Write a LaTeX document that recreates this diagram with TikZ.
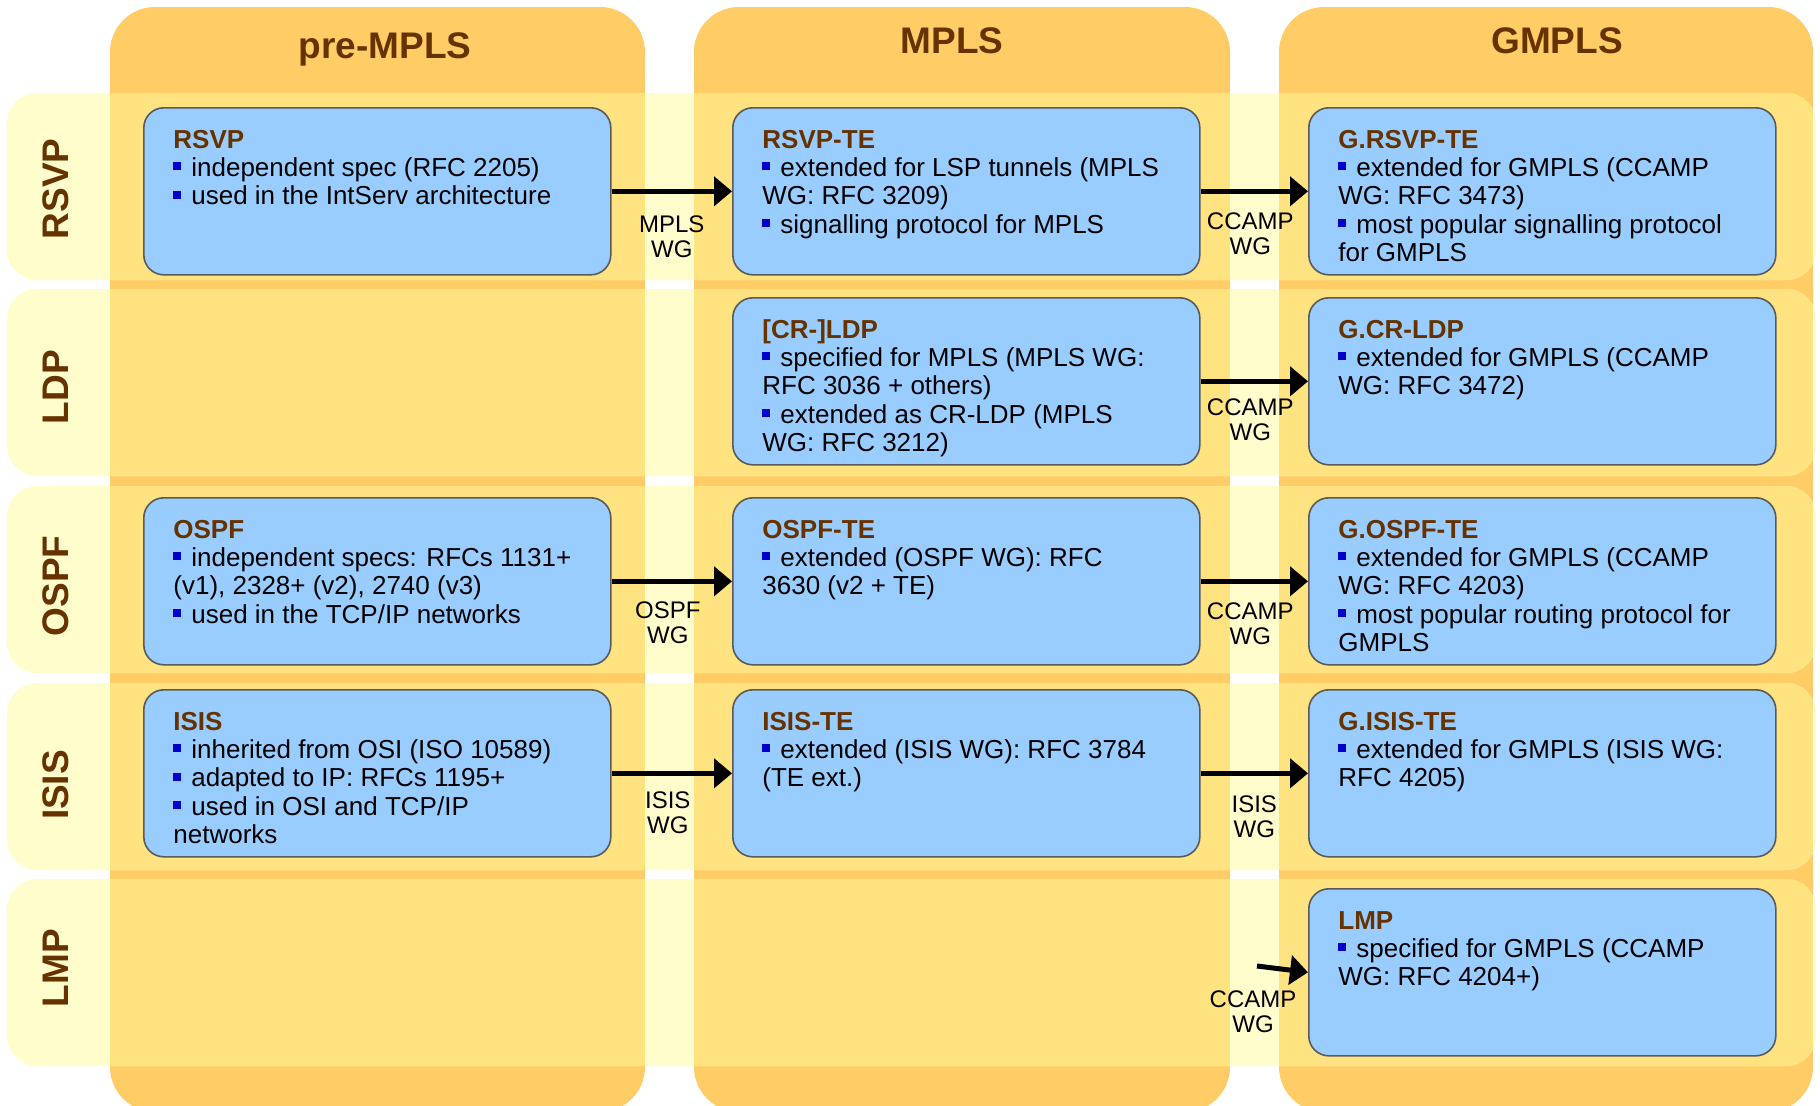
\documentclass[tikz,border=0pt]{standalone}
\usepackage{fontspec}
\setmainfont{Liberation Sans}
\usetikzlibrary{arrows.meta,calc,positioning}
\definecolor{colorange}{HTML}{FFCC66}
\definecolor{rowpale}{HTML}{FFFDCC}
\definecolor{mixyellow}{HTML}{FFE380}
\definecolor{boxblue}{HTML}{99CCFF}
\definecolor{boxline}{HTML}{5A5A5A}
\definecolor{titlebrown}{HTML}{663300}
\definecolor{bulblue}{HTML}{0000CC}
\newcommand{\bul}{\textcolor{bulblue}{\rule[3pt]{4pt}{4pt}}\hspace{5pt}}
\newcommand{\ttl}[1]{\textcolor{titlebrown}{\bfseries #1}}
\newcommand{\btxt}[1]{\parbox[t]{215pt}{\raggedright #1}}
\begin{document}
\begin{tikzpicture}[x=0.5pt, y=-0.5pt, line join=round,
	pbox/.style={draw=boxline, fill=boxblue, line width=0.8pt, rounded corners=10pt, minimum width=233.5pt, minimum height=83.5pt, inner sep=0pt, anchor=north west},
	ptxt/.style={anchor=base west, inner sep=0pt, font=\fontsize{13}{14.2}\selectfont},
	wg/.style={align=center, inner sep=0pt, font=\fontsize{12}{12.6}\selectfont},
	hdr/.style={text=titlebrown, inner sep=0pt, font=\fontsize{18.5}{20}\selectfont\bfseries},
	flow/.style={-{Triangle[length=9pt,width=14.5pt]}, line width=2.5pt}]
	\useasboundingbox (0,0) rectangle (1820,1105);
	% columns and rows
	\foreach \a/\b in {110/645,694/1230,1279/1813}{\fill[colorange, rounded corners=22.5pt] (\a,7) rectangle (\b,1112);}
	\foreach \r in {93,289,486,683,879}{
		\fill[rowpale, rounded corners=15pt] (7,\r) rectangle (1816,\r+187);
		\begin{scope}
			\clip[rounded corners=15pt] (7,\r) rectangle (1816,\r+187);
			\foreach \a/\b in {110/645,694/1230,1279/1813}{\fill[mixyellow] (\a,\r) rectangle (\b,\r+187);}
		\end{scope}}
	% headers
	\node[hdr, anchor=base] (hdPre) at (385,58) {pre-MPLS};
	\node[hdr, anchor=base] (hdMpls) at (952,53) {MPLS};
	\node[hdr, anchor=base] (hdGmpls) at (1557,53) {GMPLS};
	\foreach \t/\y in {RSVP/189,LDP/387,OSPF/586,ISIS/785,LMP/968}{\node[hdr, rotate=90] (lb\t) at (56,\y) {\t};}
	% boxes
	\node[pbox] (rsvp) at (143,107) {};
	\node[pbox] (rsvpte) at (732,107) {};
	\node[pbox] (grsvpte) at (1308,107) {};
	\node[pbox] (ldp) at (732,297) {};
	\node[pbox] (gldp) at (1308,297) {};
	\node[pbox] (ospf) at (143,497) {};
	\node[pbox] (ospfte) at (732,497) {};
	\node[pbox] (gospfte) at (1308,497) {};
	\node[pbox] (isis) at (143,689) {};
	\node[pbox] (isiste) at (732,689) {};
	\node[pbox] (gisiste) at (1308,689) {};
	\node[pbox] (lmp) at (1308,888) {};
	% texts
	\node[ptxt] (rsvpT) at ($(rsvp.north west)+(30,41)$) {\btxt{\ttl{RSVP}\\ \bul independent spec (RFC 2205)\\ \bul used in the IntServ architecture}};
	\node[ptxt] (rsvpteT) at ($(rsvpte.north west)+(30,41)$) {\btxt{\ttl{RSVP-TE}\\ \bul extended for LSP tunnels (MPLS\\ WG: RFC 3209)\\ \bul signalling protocol for MPLS}};
	\node[ptxt] (grsvpteT) at ($(grsvpte.north west)+(30,41)$) {\btxt{\ttl{G.RSVP-TE}\\ \bul extended for GMPLS (CCAMP\\ WG: RFC 3473)\\ \bul most popular signalling protocol\\ for GMPLS}};
	\node[ptxt] (ldpT) at ($(ldp.north west)+(30,41)$) {\btxt{\ttl{[CR-]LDP}\\ \bul specified for MPLS (MPLS WG:\\ RFC 3036 + others)\\ \bul extended as CR-LDP (MPLS\\ WG: RFC 3212)}};
	\node[ptxt] (gldpT) at ($(gldp.north west)+(30,41)$) {\btxt{\ttl{G.CR-LDP}\\ \bul extended for GMPLS (CCAMP\\ WG: RFC 3472)}};
	\node[ptxt] (ospfT) at ($(ospf.north west)+(30,41)$) {\btxt{\ttl{OSPF}\\ \bul independent specs: RFCs 1131+\\ (v1), 2328+ (v2), 2740 (v3)\\ \bul used in the TCP/IP networks}};
	\node[ptxt] (ospfteT) at ($(ospfte.north west)+(30,41)$) {\btxt{\ttl{OSPF-TE}\\ \bul extended (OSPF WG): RFC\\ 3630 (v2 + TE)}};
	\node[ptxt] (gospfteT) at ($(gospfte.north west)+(30,41)$) {\btxt{\ttl{G.OSPF-TE}\\ \bul extended for GMPLS (CCAMP\\ WG: RFC 4203)\\ \bul most popular routing protocol for\\ GMPLS}};
	\node[ptxt] (isisT) at ($(isis.north west)+(30,41)$) {\btxt{\ttl{ISIS}\\ \bul inherited from OSI (ISO 10589)\\ \bul adapted to IP: RFCs 1195+\\ \bul used in OSI and TCP/IP\\ networks}};
	\node[ptxt] (isisteT) at ($(isiste.north west)+(30,41)$) {\btxt{\ttl{ISIS-TE}\\ \bul extended (ISIS WG): RFC 3784\\ (TE ext.)}};
	\node[ptxt] (gisisteT) at ($(gisiste.north west)+(30,41)$) {\btxt{\ttl{G.ISIS-TE}\\ \bul extended for GMPLS (ISIS WG:\\ RFC 4205)}};
	\node[ptxt] (lmpT) at ($(lmp.north west)+(30,41)$) {\btxt{\ttl{LMP}\\ \bul specified for GMPLS (CCAMP\\ WG: RFC 4204+)}};
	% arrows
	\coordinate (lmpIn) at (1257,966);
	\draw[flow] (rsvp) -- (rsvpte) node[wg, midway, below=11pt] (wg1) {MPLS\\WG};
	\draw[flow] (rsvpte) -- (grsvpte) node[wg, midway, below=9.5pt, xshift=-2pt] (wg2) {CCAMP\\WG};
	\draw[flow] (ldp) -- (gldp) node[wg, midway, below=7.5pt, xshift=-2pt] (wg3) {CCAMP\\WG};
	\draw[flow] (ospf) -- (ospfte) node[wg, midway, below=9pt, xshift=-2pt] (wg4) {OSPF\\WG};
	\draw[flow] (ospfte) -- (gospfte) node[wg, midway, below=9.5pt, xshift=-2pt] (wg5) {CCAMP\\WG};
	\draw[flow] (isis) -- (isiste) node[wg, midway, below=8pt, xshift=-2pt] (wg6) {ISIS\\WG};
	\draw[flow] (isiste) -- (gisiste) node[wg, midway, below=10pt] (wg7) {ISIS\\WG};
	\draw[flow] (lmpIn) -- (lmp.west) node[wg, at start, below=11pt, xshift=-2pt] (wg8) {CCAMP\\WG};
\end{tikzpicture}
\end{document}
